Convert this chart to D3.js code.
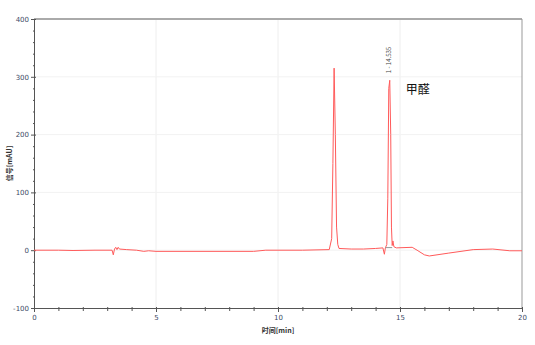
<!DOCTYPE html>
<html>
<head>
<meta charset="utf-8">
<script src="https://cdn.jsdelivr.net/npm/d3@7"></script>
<style>
  body { margin: 0; background: #fff; }
  svg { display: block; font-family: "Noto Sans CJK SC", "DejaVu Sans", sans-serif; }
</style>
</head>
<body>
<div class="chrom"></div>
<script>
// chromatogram trace
const times = [0, 1, 1.6, 2.5, 3.2, 3.25, 3.3, 3.35, 3.4, 3.45, 3.5, 3.8, 4.2, 4.5, 4.7, 5, 9, 9.5, 11, 12.1,
  12.2, 12.25, 12.3, 12.35, 12.4, 12.45, 12.5, 13, 13.5, 14, 14.3, 14.36, 14.4, 14.46, 14.5, 14.54, 14.58,
  14.62, 14.65, 14.68, 14.71, 14.75, 14.85, 15.5, 15.7, 16.0, 16.2, 17, 18, 18.8, 19.5, 20];
const signal = [0, 0, -0.5, 0, 0, -8, 2, 5, 1, 5, 2, 1, 0, -2, -1, -2, -2, 0, 0, 1,
  20, 150, 315, 200, 40, 10, 3, 2, 2, 3, 4, -7, 4, 10, 90, 280, 294,
  200, 40, 8, 16, 6, 4, 5, 0, -8, -10, -5, 1, 2, -1, -1];

const xTicks = [0, 5, 10, 15, 20];
const yTicks = [-100, 0, 100, 200, 300, 400];
const peakLabel = "1 - 14.535";
const peakName = "甲醛";
const peakTime = 14.58, peakHeight = 294;
const baseSeg = [[14.4, 4.5], [14.68, 4.5]];

const render_chrom = () => {
    const width = 535, height = 345;
    const margin = { top: 19, right: 13, bottom: 37, left: 34 };

    const svg = d3.select('.chrom').append('svg')
        .attr('width', width)
        .attr('height', height);

    const x = d3.scaleLinear().domain([0, 20]).range([margin.left, width - margin.right]);
    const y = d3.scaleLinear().domain([-100, 400]).range([height - margin.bottom, margin.top]);

    // faint grid
    svg.append('g').selectAll('line')
        .data(xTicks.slice(1, -1))
        .join('line')
        .attr('x1', d => x(d)).attr('x2', d => x(d))
        .attr('y1', y(400)).attr('y2', y(-100))
        .attr('stroke', '#eeeeee');
    svg.append('g').selectAll('line')
        .data(yTicks.slice(1, -1))
        .join('line')
        .attr('x1', x(0)).attr('x2', x(20))
        .attr('y1', d => y(d)).attr('y2', d => y(d))
        .attr('stroke', '#f2f2f2');

    // frame: top and right
    svg.append('line')
        .attr('x1', x(0)).attr('x2', x(20)).attr('y1', y(400)).attr('y2', y(400))
        .attr('stroke', '#aaaaaa').attr('stroke-width', 2);
    svg.append('line')
        .attr('x1', x(20)).attr('x2', x(20)).attr('y1', y(400)).attr('y2', y(-100))
        .attr('stroke', '#999999');

    // bottom axis
    const gx = svg.append('g')
        .attr('transform', `translate(0,${y(-100)})`)
        .call(d3.axisBottom(x).tickValues(d3.range(0, 20.01, 1))
            .tickSize(3).tickSizeOuter(0)
            .tickFormat(d => xTicks.includes(d) ? d : ''));
    gx.select('.domain').attr('stroke', '#555');
    gx.selectAll('.tick line').attr('stroke', '#555').attr('y1', -1)
        .attr('y2', d => xTicks.includes(d) ? 4 : 3);
    gx.selectAll('.tick text').attr('fill', '#3d4a66').attr('font-size', 7)
        .attr('font-family', 'DejaVu Sans').attr('dy', '0.9em');

    // left axis
    const gy = svg.append('g')
        .attr('transform', `translate(${x(0)},0)`)
        .call(d3.axisLeft(y).tickValues(d3.range(-100, 400.1, 20))
            .tickSize(2).tickSizeOuter(0)
            .tickFormat(d => yTicks.includes(d) ? d : ''));
    gy.select('.domain').attr('stroke', '#555');
    gy.selectAll('.tick line').attr('stroke', '#555')
        .attr('x1', d => yTicks.includes(d) ? 2 : 1)
        .attr('x2', d => yTicks.includes(d) ? -3 : -1);
    gy.selectAll('.tick text').attr('fill', '#3d4a66').attr('font-size', 7)
        .attr('font-family', 'DejaVu Sans').attr('x', -5);

    // axis titles
    svg.append('text')
        .attr('transform', `translate(12,${(y(400) + y(-100)) / 2}) rotate(-90)`)
        .attr('text-anchor', 'middle')
        .attr('font-size', 7).attr('font-weight', 'bold').attr('fill', '#333')
        .text('信号[mAU]');
    svg.append('text')
        .attr('x', x(10)).attr('y', 333)
        .attr('text-anchor', 'middle')
        .attr('font-size', 7).attr('font-weight', 'bold').attr('fill', '#333')
        .text('时间[min]');

    // trace
    const pts = times.map((t, i) => [t, signal[i]]);
    svg.append('path')
        .datum(pts)
        .attr('fill', 'none')
        .attr('stroke', '#ff5a5a')
        .attr('stroke-width', 1)
        .attr('d', d3.line().x(d => x(d[0])).y(d => y(d[1])));

    // integration baseline
    svg.append('path')
        .datum(baseSeg)
        .attr('fill', 'none')
        .attr('stroke', '#999')
        .attr('stroke-width', 1)
        .attr('d', d3.line().x(d => x(d[0])).y(d => y(d[1])));

    // peak annotation
    svg.append('text')
        .attr('transform', `translate(${x(peakTime) + 1},${y(peakHeight) - 7}) rotate(-90)`)
        .attr('font-size', 6).attr('fill', '#444')
        .text(peakLabel);
    svg.append('text')
        .attr('x', x(peakTime) + 16).attr('y', y(peakHeight) + 14)
        .attr('font-size', 12).attr('fill', '#111')
        .text(peakName);
};

render_chrom();
</script>
</body>
</html>
